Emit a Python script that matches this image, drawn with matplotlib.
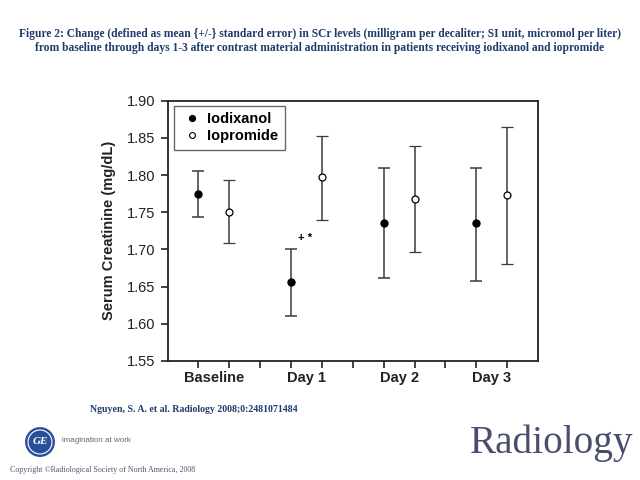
import matplotlib
matplotlib.use("Agg")
import matplotlib.pyplot as plt
from matplotlib.patches import Circle
from matplotlib.lines import Line2D

groups = ["Baseline", "Day 1", "Day 2", "Day 3"]
iodixanol_mean = [1.775, 1.656, 1.736, 1.735]
iodixanol_low = [1.744, 1.610, 1.662, 1.658]
iodixanol_high = [1.805, 1.700, 1.809, 1.809]
iopromide_mean = [1.751, 1.797, 1.768, 1.773]
iopromide_low = [1.708, 1.740, 1.697, 1.681]
iopromide_high = [1.793, 1.852, 1.839, 1.864]
yticks = [1.55, 1.60, 1.65, 1.70, 1.75, 1.80, 1.85, 1.90]

title = ("Figure 2: Change (defined as mean {+/-} standard error) in SCr levels (milligram per decaliter; SI unit, micromol per liter)\n"
         "from baseline through days 1-3 after contrast material administration in patients receiving iodixanol and iopromide")

fig = plt.figure(figsize=(6.4, 4.8), dpi=100)
W, H = 640, 480
ax = fig.add_axes([167.5 / W, 1 - 361 / H, (538 - 167.5) / W, (361 - 100.7) / H])

x_iod = [1 + 3 * i for i in range(len(groups))]
x_iop = [2 + 3 * i for i in range(len(groups))]

def err(mean, low, high):
    return [[m - l for m, l in zip(mean, low)], [h - m for m, h in zip(mean, high)]]

ecol = "#3a3a3a"
ax.errorbar(x_iod, iodixanol_mean, yerr=err(iodixanol_mean, iodixanol_low, iodixanol_high),
            fmt="o", color="black", ecolor=ecol, elinewidth=1.1, capsize=4, capthick=1.1,
            markersize=5, markerfacecolor="black", markeredgecolor="black", zorder=3)
ax.errorbar(x_iop, iopromide_mean, yerr=err(iopromide_mean, iopromide_low, iopromide_high),
            fmt="o", color="black", ecolor=ecol, elinewidth=1.1, capsize=4, capthick=1.1,
            markersize=5, markerfacecolor="white", markeredgecolor="black", markeredgewidth=0.9,
            zorder=3)

ax.text(4.45, 1.716, "+ *", ha="center", va="center", fontsize=8, fontweight="bold", family="Liberation Sans")

ax.set_xlim(0, 12)
ax.set_ylim(1.55, 1.90)
ax.set_yticks(yticks)
ax.set_yticklabels([f"{v:.2f}" for v in yticks], family="Liberation Sans", fontsize=10.5, color="#222222")
ax.set_xticks(range(1, 12))
ax.set_xticklabels([])
for i, g in enumerate(groups):
    ax.text(1.5 + 3 * i, -0.065, g, transform=ax.get_xaxis_transform(), ha="center", va="center",
            fontsize=10.5, fontweight="bold", family="Liberation Sans", color="#222222")
ax.tick_params(axis="both", direction="out", length=5, width=1.2, colors="#222222")
for s in ax.spines.values():
    s.set_linewidth(1.3)
    s.set_color("#222222")
ax.set_ylabel("Serum Creatinine (mg/dL)", fontsize=10.5, fontweight="bold", family="Liberation Sans",
              color="#222222", labelpad=8)

handles = [
    Line2D([], [], linestyle="none", marker="o", markersize=4.2, markerfacecolor="black",
           markeredgecolor="black"),
    Line2D([], [], linestyle="none", marker="o", markersize=4.2, markerfacecolor="white",
           markeredgecolor="black", markeredgewidth=0.8),
]
leg = ax.legend(handles, ["Iodixanol", "Iopromide"], loc="upper left", bbox_to_anchor=(0.017, 0.98),
                frameon=True, fancybox=False, edgecolor="#444444", handletextpad=0.25, handlelength=1.6,
                borderpad=0.45, borderaxespad=0.0,
                prop={"family": "Liberation Sans", "weight": "bold", "size": 10.5}, labelspacing=0.2)
leg.get_frame().set_linewidth(1.0)

blue = "#1f3a6b"
fig.text(0.5, 1 - 41 / H, title, ha="center", va="center", fontsize=8.3, fontweight="bold",
         family="Liberation Serif", color=blue, linespacing=1.3)
fig.text(90 / W, 1 - 410 / H, "Nguyen, S. A. et al. Radiology 2008;0:2481071484", ha="left", va="center",
         fontsize=7.1, fontweight="bold", family="Liberation Serif", color=blue)
fig.text(10 / W, 1 - 470 / H, "Copyright \u00a9Radiological Society of North America, 2008", ha="left",
         va="center", fontsize=5.8, family="Liberation Serif", color="#555577")
fig.text(62 / W, 1 - 441 / H, "imagination at work", ha="left", va="center", fontsize=5.8,
         family="Liberation Sans", color="#666666")
fig.text(470 / W, 1 - 443 / H, "Radiology", ha="left", va="center", fontsize=28.3,
         family="Liberation Serif", color="#4a4e6a")

lax = fig.add_axes([25 / W, 1 - 457 / H, 30 / W, 30 / H])
lax.set_xlim(-1, 1)
lax.set_ylim(-1, 1)
lax.set_aspect("equal")
lax.axis("off")
lax.add_patch(Circle((0, 0), 0.95, color="#2a4f9a"))
lax.add_patch(Circle((0, 0), 0.8, fill=False, edgecolor="white", linewidth=0.8))
lax.text(0, 0, "GE", ha="center", va="center", color="white", fontsize=8, style="italic",
         fontweight="bold", family="Liberation Serif")

fig.savefig("out.png", dpi=100)
